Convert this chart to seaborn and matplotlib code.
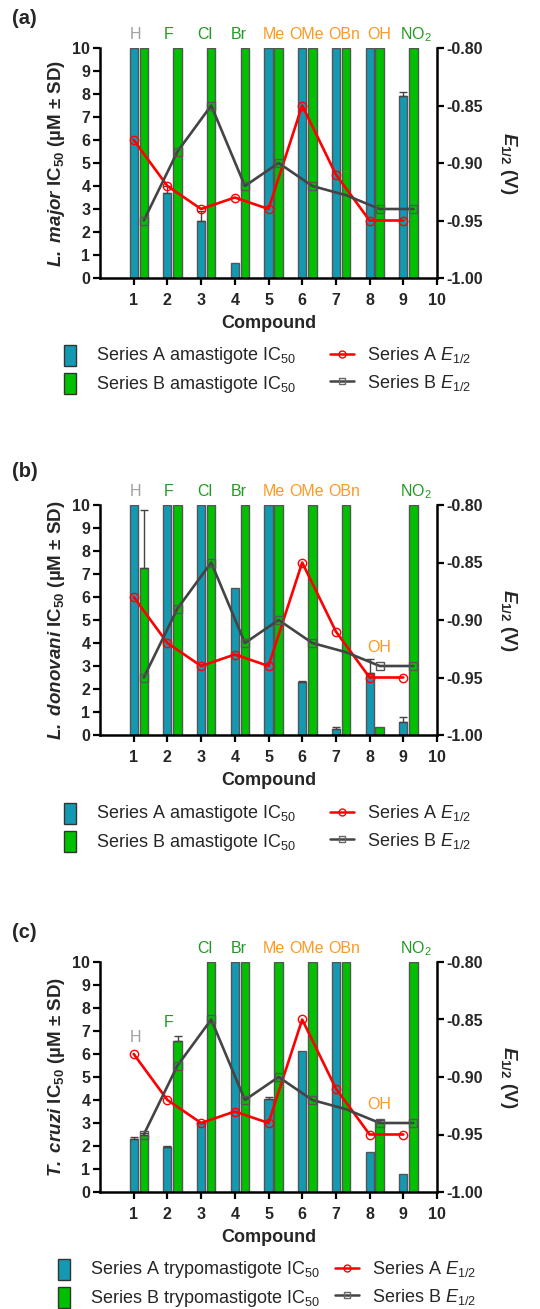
import numpy as np
import pandas as pd
import matplotlib
matplotlib.use("Agg")
import matplotlib.pyplot as plt
import matplotlib.patches as mpatches
from matplotlib.lines import Line2D
from matplotlib.legend_handler import HandlerPatch
import seaborn as sns

# ---------------- data ----------------
compounds = [1, 2, 3, 4, 5, 6, 7, 8, 9]
substituents = ["H", "F", "Cl", "Br", "Me", "OMe", "OBn", "OH", "NO$_{\\mathrm{2}}$"]
sub_colors = ["#a0a0a0", "#229922", "#229922", "#229922", "#ff9922",
              "#ff9922", "#ff9922", "#ff9922", "#229922"]

e_half_A = [-0.88, -0.92, -0.94, -0.93, -0.94, -0.85, -0.91, -0.95, -0.95]
e_half_B = [-0.95, -0.89, -0.85, -0.92, -0.90, -0.92, -0.928, -0.94, -0.94]

lmajor_A = [10, 3.7, 2.5, 0.65, 10, 10, 10, 10, 7.9]
lmajor_A_sd = [0, 0.3, 0.4, 0, 0, 0, 0, 0, 0.2]
lmajor_B = [10, 10, 10, 10, 10, 10, 10, 10, 10]
lmajor_B_sd = [0, 0, 0, 0, 0, 0, 0, 0, 0]

ldon_A = [10, 10, 10, 6.4, 10, 2.3, 0.25, 2.7, 0.55]
ldon_A_sd = [0, 0, 0, 0, 0, 0.05, 0.08, 0.62, 0.22]
ldon_B = [7.25, 10, 10, 10, 10, 10, 10, 0.35, 10]
ldon_B_sd = [2.55, 0, 0, 0, 0, 0, 0, 0, 0]

tcruzi_A = [2.3, 1.95, 3.0, 10, 4.05, 6.15, 10, 1.75, 0.78]
tcruzi_A_sd = [0.1, 0.07, 0.05, 0, 0.1, 0, 0, 0, 0]
tcruzi_B = [2.5, 6.55, 10, 10, 10, 10, 10, 3.05, 10]
tcruzi_B_sd = [0.08, 0.22, 0, 0, 0, 0, 0, 0.07, 0]

label_y_a = [10.57] * 9
label_y_b = [10.57] * 7 + [3.8, 10.57]
label_y_c = [6.7, 7.35, 10.57, 10.57, 10.57, 10.57, 10.57, 3.8, 10.57]
label_x = [1.05, 2.03, 3.12, 4.13, 5.17, 6.12, 7.24, 8.28, 9.36]

# ---------------- style ----------------
sns.set_style("ticks")
plt.rcParams["font.family"] = ["Liberation Sans", "DejaVu Sans"]
plt.rcParams["mathtext.fontset"] = "custom"
plt.rcParams["mathtext.rm"] = "Liberation Sans"
plt.rcParams["mathtext.it"] = "Liberation Sans:italic"
plt.rcParams["mathtext.bf"] = "Liberation Sans:bold"
plt.rcParams["mathtext.bfit"] = "Liberation Sans:italic:bold"
plt.rcParams["mathtext.sf"] = "Liberation Sans"

BLUE = "#1499b3"
GREEN = "#00c000"
EDGE = "#555555"
W, H = 540, 1309

fig = plt.figure(figsize=(W / 100, H / 100), dpi=100)


def narrow_patch(legend, orig_handle, xdescent, ydescent, width, height, fontsize):
    return mpatches.Rectangle((width / 2 - 4 - xdescent, -ydescent - 4), 8, height + 6)


def panel(top_px, A, A_sd, B, B_sd, ylabel, letter, letter_y, label_y, leg_names,
          leg_x, leg_top, colspace):
    bottom = 1 - (top_px + 230) / H
    ax = fig.add_axes([100 / W, bottom, 337 / W, 230 / H])
    dfA = pd.DataFrame({"x": [float(c) for c in compounds], "y": A})
    dfB = pd.DataFrame({"x": [c + 0.3 for c in compounds], "y": B})
    sns.barplot(data=dfA, x="x", y="y", native_scale=True, width=0.24, color=BLUE,
                saturation=1, edgecolor=EDGE, linewidth=1, errorbar=None, ax=ax)
    sns.barplot(data=dfB, x="x", y="y", native_scale=True, width=0.25, color=GREEN,
                saturation=1, edgecolor=EDGE, linewidth=1, errorbar=None, ax=ax)
    for df, sd in ((dfA, A_sd), (dfB, B_sd)):
        sd = np.array(sd, float)
        m = sd > 0
        if m.any():
            ax.errorbar(df["x"].values[m], df["y"].values[m],
                        yerr=[np.zeros(m.sum()), sd[m]], fmt="none",
                        ecolor="#444444", elinewidth=1, capsize=3, capthick=1)
    ax.set_xlim(0, 10)
    ax.set_ylim(0, 10)
    ax.set_xticks(range(1, 11))
    ax.set_xticklabels([str(i) for i in range(1, 11)])
    ax.set_yticks(range(0, 11))
    ax.set_yticklabels([str(i) for i in range(0, 11)])
    for lab in ax.get_xticklabels() + ax.get_yticklabels():
        lab.set_fontweight("bold")
    ax.tick_params(axis="both", width=1.6, length=5, labelsize=11.5, pad=2, color="black")
    ax.tick_params(axis="x", pad=6)
    for s in ("top", "right"):
        ax.spines[s].set_visible(False)
    for s in ("left", "bottom"):
        ax.spines[s].set_linewidth(1.8)
        ax.spines[s].set_color("black")
    ax.set_xlabel("Compound", fontsize=13, fontweight="bold", labelpad=5)
    ax.set_ylabel(ylabel, fontsize=13.5, fontweight="bold", labelpad=4)

    for x, y, t, c in zip(label_x, label_y, substituents, sub_colors):
        ax.text(x, y, t, color=c, fontsize=11.5, ha="center", va="center", clip_on=False)

    ax2 = ax.twinx()
    sns.lineplot(x=[float(c) for c in compounds], y=e_half_A, ax=ax2, color="red",
                 linewidth=1.9, marker="o", markersize=6, markerfacecolor="none",
                 markeredgecolor="red", markeredgewidth=1, sort=False)
    sns.lineplot(x=[c + 0.3 for c in compounds], y=e_half_B, ax=ax2, color="#444444",
                 linewidth=1.9, marker="s", markersize=6, markerfacecolor="none",
                 markeredgecolor="#555555", markeredgewidth=1, sort=False,
                 markevery=[0, 1, 2, 3, 4, 5, 7, 8])
    ax2.set_ylim(-1.0, -0.8)
    ax2.set_yticks([-1.0, -0.95, -0.9, -0.85, -0.8])
    ax2.set_yticklabels(["-1.00", "-0.95", "-0.90", "-0.85", "-0.80"])
    for lab in ax2.get_yticklabels():
        lab.set_fontweight("bold")
    ax2.tick_params(axis="y", width=1.6, length=5, labelsize=11.5, pad=2, color="black")
    for s in ("top", "left", "bottom"):
        ax2.spines[s].set_visible(False)
    ax2.spines["right"].set_linewidth(1.8)
    ax2.spines["right"].set_color("black")
    ax2.set_xlabel("")
    ax2.set_ylabel(r"$\mathbfit{E}_{\mathbf{1/2}}$ (V)", fontsize=13.5,
                   fontweight="bold", rotation=270, labelpad=26)
    ax.set_xlim(0, 10)

    fig.text(12 / W, 1 - letter_y / H, letter, fontsize=14.5, fontweight="bold",
             ha="left", va="center")

    handles = [mpatches.Patch(facecolor=BLUE, edgecolor="#333333", linewidth=1),
               mpatches.Patch(facecolor=GREEN, edgecolor="#333333", linewidth=1),
               Line2D([], [], color="red", lw=1.8, marker="o", ms=5, mfc="none", mec="red"),
               Line2D([], [], color="#444444", lw=1.8, marker="s", ms=5, mfc="none",
                      mec="#666666")]
    labels = leg_names + [r"Series A $\mathit{E}_{\mathrm{1/2}}$",
                          r"Series B $\mathit{E}_{\mathrm{1/2}}$"]
    ax2.legend(handles, labels, loc="upper left",
               bbox_to_anchor=(leg_x / W, 1 - leg_top / H),
               bbox_transform=fig.transFigure, ncol=2, frameon=False,
               fontsize=13, handlelength=1.33, handletextpad=0.75,
               columnspacing=colspace, labelspacing=0.42, borderpad=0,
               borderaxespad=0,
               handler_map={mpatches.Patch: HandlerPatch(patch_func=narrow_patch)})
    return ax, ax2


panel(48, lmajor_A, lmajor_A_sd, lmajor_B, lmajor_B_sd,
      r"$\mathbfit{L.\ major}$ IC$_{\mathbf{50}}$ (µM ± SD)", "(a)", 18, label_y_a,
      [r"Series A amastigote IC$_{\mathrm{50}}$", r"Series B amastigote IC$_{\mathrm{50}}$"],
      58, 345, 1.9)
panel(505, ldon_A, ldon_A_sd, ldon_B, ldon_B_sd,
      r"$\mathbfit{L.\ donovani}$ IC$_{\mathbf{50}}$ (µM ± SD)", "(b)", 472, label_y_b,
      [r"Series A amastigote IC$_{\mathrm{50}}$", r"Series B amastigote IC$_{\mathrm{50}}$"],
      58, 803, 1.9)
panel(962, tcruzi_A, tcruzi_A_sd, tcruzi_B, tcruzi_B_sd,
      r"$\mathbfit{T.\ cruzi}$ IC$_{\mathbf{50}}$ (µM ± SD)", "(c)", 933, label_y_c,
      [r"Series A trypomastigote IC$_{\mathrm{50}}$",
       r"Series B trypomastigote IC$_{\mathrm{50}}$"],
      52, 1259, 0.85)

fig.savefig("out.png", dpi=100)
